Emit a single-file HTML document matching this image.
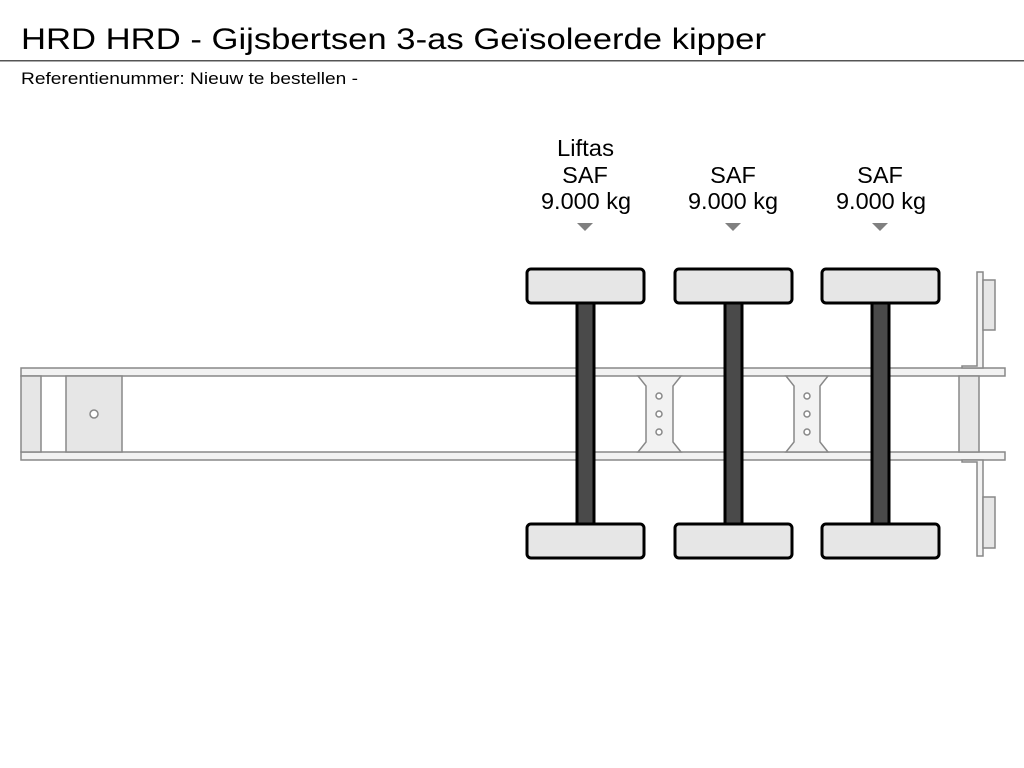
<!DOCTYPE html>
<html><head><meta charset="utf-8"><style>
html,body{margin:0;padding:0;background:#fff;width:1024px;height:768px;overflow:hidden}
svg{display:block}
</style></head><body>
<svg width="1024" height="768" viewBox="0 0 1024 768" xmlns="http://www.w3.org/2000/svg" font-family="Liberation Sans, sans-serif">
<text x="21" y="49" font-size="30" fill="#000" textLength="745" lengthAdjust="spacingAndGlyphs">HRD HRD - Gijsbertsen 3-as Geïsoleerde kipper</text>
<rect x="0" y="60" width="1024" height="1.5" fill="#555"/>
<text x="21" y="84" font-size="17" fill="#000" textLength="337" lengthAdjust="spacingAndGlyphs">Referentienummer: Nieuw te bestellen -</text>

<g font-size="23.5" fill="#000" text-anchor="middle">
<text x="585.5" y="156" textLength="57" lengthAdjust="spacingAndGlyphs">Liftas</text>
<text x="585" y="183">SAF</text>
<text x="586" y="209" textLength="90" lengthAdjust="spacingAndGlyphs">9.000 kg</text>
<text x="733" y="183">SAF</text>
<text x="733" y="209" textLength="90" lengthAdjust="spacingAndGlyphs">9.000 kg</text>
<text x="880" y="183">SAF</text>
<text x="881" y="209" textLength="90" lengthAdjust="spacingAndGlyphs">9.000 kg</text>
</g>
<g fill="#808080">
<polygon points="577,223 593,223 585,231"/>
<polygon points="725,223 741,223 733,231"/>
<polygon points="872,223 888,223 880,231"/>
</g>

<g stroke="#888" stroke-width="1.5" fill="#f2f2f2">
<rect x="21" y="368" width="984" height="8"/>
<rect x="21" y="452" width="984" height="8"/>
<rect x="21" y="376" width="20" height="76" fill="#e6e6e6"/>
<rect x="66" y="376" width="56" height="76" fill="#e6e6e6"/>
<path d="M638,376 L681,376 L673,386 L673,442 L681,452 L638,452 L646,442 L646,386 Z"/>
<path d="M786,376 L828,376 L820,386 L820,442 L828,452 L786,452 L794,442 L794,386 Z"/>
<rect x="959" y="376" width="20" height="76" fill="#e6e6e6"/>
<path d="M977,272 L983,272 L983,368 L962,368 L962,366 L977,366 Z"/>
<path d="M977,556 L983,556 L983,460 L962,460 L962,462 L977,462 Z"/>
<rect x="983" y="280" width="12" height="50" fill="#e6e6e6"/>
<rect x="983" y="497" width="12" height="51" fill="#e6e6e6"/>
</g>
<g stroke="#888" stroke-width="1.5" fill="#fff">
<circle cx="94" cy="414" r="4"/>
<circle cx="659" cy="396" r="3"/><circle cx="659" cy="414" r="3"/><circle cx="659" cy="432" r="3"/>
<circle cx="807" cy="396" r="3"/><circle cx="807" cy="414" r="3"/><circle cx="807" cy="432" r="3"/>
</g>

<g stroke="#000" stroke-width="3">
<rect x="577" y="303" width="17" height="221" fill="#4a4a4a"/>
<rect x="725" y="303" width="17" height="221" fill="#4a4a4a"/>
<rect x="872" y="303" width="17" height="221" fill="#4a4a4a"/>
<g fill="#e6e6e6">
<rect x="527" y="269" width="117" height="34" rx="4"/>
<rect x="527" y="524" width="117" height="34" rx="4"/>
<rect x="675" y="269" width="117" height="34" rx="4"/>
<rect x="675" y="524" width="117" height="34" rx="4"/>
<rect x="822" y="269" width="117" height="34" rx="4"/>
<rect x="822" y="524" width="117" height="34" rx="4"/>
</g>
</g>
</svg>
</body></html>
